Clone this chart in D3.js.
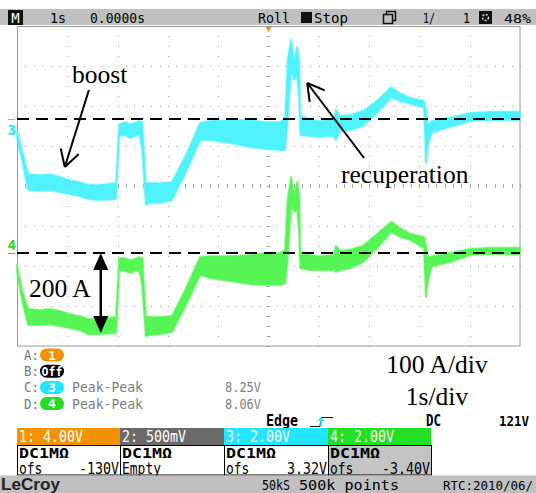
<!DOCTYPE html>
<html>
<head>
<meta charset="utf-8">
<script src="https://cdn.jsdelivr.net/npm/d3@7"></script>
<style>
  body { margin: 0; background: #fff; }
  svg { display: block; }
  .mono { font-family: "DejaVu Sans Mono", "Liberation Mono", monospace; }
  .serif { font-family: "Liberation Serif", "Times New Roman", serif; }
  .sans { font-family: "Liberation Sans", Arial, sans-serif; }
</style>
</head>
<body>
<div id="chart"></div>
<script>
// Time base (s) of the envelope samples, shared by both current probes
const timeS = [0, 0.10, 0.22, 0.46, 0.66, 0.85, 1.05, 1.25, 1.41, 1.65,
  1.97, 2.03, 2.15, 2.25, 2.35, 2.43, 2.49, 2.56, 2.64, 2.84,
  3.08, 3.36, 3.64, 3.84, 4.23, 4.63, 4.95, 5.23, 5.33, 5.38,
  5.45, 5.51, 5.57, 5.61, 5.63, 5.83, 6.02, 6.30, 6.34, 6.42,
  6.62, 6.88, 7.18, 7.44, 7.61, 7.81, 8.09, 8.13, 8.17, 8.25,
  8.61, 9.01, 9.40, 10.0];

// Channel 3 current envelope (A): upper and lower edge of the noisy band
const ch3Max = [-28, -78, -138, -140, -138, -145, -153, -158, -165, -165,
  -160, -13, -8, -13, -10, -5, -8, -160, -160, -160,
  -158, -90, -10, -5, -3, -3, -8, -8, 3, 148,
  198, 143, 180, 148, 10, -3, -5, 0, 23, 8,
  10, 20, 48, 80, 65, 53, 45, 23, -15, -5,
  3, 15, 18, 18];
const ch3Min = [-48, -103, -178, -180, -178, -183, -188, -193, -200, -203,
  -200, -43, -40, -48, -43, -38, -78, -215, -210, -210,
  -203, -133, -53, -53, -60, -70, -75, -78, -78, -3,
  123, 98, 110, 48, -40, -43, -45, -43, -53, -30,
  -28, -18, 18, 53, 45, 38, 28, -110, -65, -33,
  -20, -5, -3, -3];

// Channel 4 current envelope (A)
const ch4Max = [-30, -93, -140, -143, -140, -145, -153, -158, -165, -165,
  -160, -13, -13, -18, -15, -10, -13, -158, -160, -160,
  -158, -88, -10, -8, -8, -5, 0, 0, 8, 133,
  190, 145, 178, 145, 3, -5, -8, -5, 18, 5,
  8, 18, 50, 78, 63, 48, 40, 20, -13, -8,
  0, 10, 13, 13];
const ch4Min = [-48, -118, -180, -180, -178, -183, -188, -193, -203, -203,
  -200, -43, -45, -50, -45, -43, -80, -208, -205, -203,
  -198, -130, -55, -63, -70, -78, -80, -80, -75, -18,
  120, 103, 108, 45, -38, -43, -43, -43, -48, -43,
  -38, -23, 15, 53, 40, 33, 13, -110, -68, -33,
  -23, -5, -3, -3];

// Screen settings
const ampsPerDiv = 100;
const groundOffsetDiv = [1.675, -1.675];  // ch3, ch4 zero levels (div)
const measureRows = [
  { key: "A:", badge: "1", color: "#f39200", label: "", value: "" },
  { key: "B:", badge: "Off", color: "#000", label: "", value: "" },
  { key: "C:", badge: "3", color: "#22e6ff", label: "Peak-Peak", value: "8.25V" },
  { key: "D:", badge: "4", color: "#22dd22", label: "Peak-Peak", value: "8.06V" }
];
const channelBoxes = [
  { head: "1: 4.00V", color: "#f39200", line1: "DC1M\u03A9", left: "ofs", right: "-130V", body: "#fff" },
  { head: "2: 500mV", color: "#6b6b6b", line1: "DC1M\u03A9", left: "Empty", right: "", body: "#fff" },
  { head: "3: 2.00V", color: "#22e6ff", line1: "DC1M\u03A9", left: "ofs", right: "3.32V", body: "#fff" },
  { head: "4: 2.00V", color: "#22e022", line1: "DC1M\u03A9", left: "ofs", right: "-3.40V", body: "#c4c4c4" }
];

const W = 536, H = 493;
const svg = d3.select("#chart").append("svg").attr("width", W).attr("height", H);

const x = d3.scaleLinear().domain([0, 10]).range([17, 520]);
const y = d3.scaleLinear().domain([-4, 4]).range([346, 26]);

function txt(g, px, py, s, o = {}) {
  const t = g.append("text").attr("x", px).attr("y", py).text(s)
    .attr("class", o.cls || "mono")
    .attr("font-size", o.size || 14)
    .attr("fill", o.fill || "#000");
  if (o.weight) t.attr("font-weight", o.weight);
  if (o.anchor) t.attr("text-anchor", o.anchor);
  if (o.len) t.attr("textLength", o.len).attr("lengthAdjust", "spacingAndGlyphs");
  return t;
}

// ---- top status bar
const topBar = svg.append("g");
topBar.append("rect").attr("x", 0).attr("y", 9).attr("width", W).attr("height", 16).attr("fill", "#c0c0c0");
topBar.append("rect").attr("x", 8).attr("y", 10).attr("width", 15).attr("height", 15).attr("fill", "#111");
txt(topBar, 15.5, 22.5, "M", { fill: "#fff", anchor: "middle", size: 14 });
txt(topBar, 50, 22.5, "1s", { len: 16 });
txt(topBar, 90, 22.5, "0.0000s", { len: 55 });
txt(topBar, 258, 22.5, "Roll", { len: 32 });
topBar.append("rect").attr("x", 301.5).attr("y", 12.5).attr("width", 10).attr("height", 10).attr("fill", "#111").attr("stroke", "#111");
txt(topBar, 314, 22.5, "Stop", { len: 34 });
topBar.append("rect").attr("x", 386.5).attr("y", 11.5).attr("width", 9).attr("height", 9).attr("fill", "none").attr("stroke", "#111").attr("stroke-width", 1.5);
topBar.append("rect").attr("x", 383.5).attr("y", 14.5).attr("width", 9).attr("height", 9).attr("fill", "#c0c0c0").attr("stroke", "#111").attr("stroke-width", 1.5);
txt(topBar, 423, 22.5, "1/", { len: 12 });
txt(topBar, 463, 22.5, "1", { len: 7 });
topBar.append("rect").attr("x", 479).attr("y", 11).attr("width", 13).attr("height", 13).attr("fill", "#111");
topBar.append("circle").attr("cx", 485.5).attr("cy", 17.5).attr("r", 3).attr("fill", "none").attr("stroke", "#ddd").attr("stroke-width", 1.5).attr("stroke-dasharray", "2,1.5");
txt(topBar, 504, 22.5, "48%", { size: 13, len: 27 });

// ---- graticule
const grid = svg.append("g");
const dotColor = "#a8a8a8";
for (let i = 1; i < 10; i++) {
  for (let d = -4; d <= 4; d += 0.25) {
    grid.append("rect").attr("x", Math.round(x(i))).attr("y", Math.round(y(d))).attr("width", 1).attr("height", 1).attr("fill", dotColor);
  }
}
for (let j = -3; j <= 3; j++) {
  for (let k = 0; k <= 60; k++) {
    grid.append("rect").attr("x", Math.round(x(k / 6))).attr("y", Math.round(y(j))).attr("width", 1).attr("height", 1).attr("fill", dotColor);
  }
}
// centre cross ticks
for (let d = -4; d <= 4; d += 0.25) {
  grid.append("line").attr("x1", x(5) - 2).attr("x2", x(5) + 2).attr("y1", Math.round(y(d)) + 0.5).attr("y2", Math.round(y(d)) + 0.5).attr("stroke", dotColor);
}
for (let k = 0; k <= 60; k++) {
  grid.append("line").attr("x1", Math.round(x(k / 6)) + 0.5).attr("x2", Math.round(x(k / 6)) + 0.5).attr("y1", y(0) - 2).attr("y2", y(0) + 2).attr("stroke", dotColor);
}
grid.append("rect").attr("x", 17.5).attr("y", 26.5).attr("width", 502.5).attr("height", 319.5)
  .attr("fill", "none").attr("stroke", "#9a9a9a");

// trigger position marker
svg.append("path").attr("d", `M${x(5) - 3},27 L${x(5) + 3},27 L${x(5)},32 Z`).attr("fill", "#f39200");

// ---- traces (noise band drawn as a min/max envelope with a soft rim)
const traces = [
  { hi: ch3Max, lo: ch3Min, off: groundOffsetDiv[0], color: "#4ff2fb", label: "3" },
  { hi: ch4Max, lo: ch4Min, off: groundOffsetDiv[1], color: "#55f555", label: "4" }
];
const traceG = svg.append("g");
traces.forEach(tr => {
  const pts = timeS.map((t, i) => ({ t, hi: tr.hi[i], lo: tr.lo[i] }));
  const yA = a => y(tr.off + a / ampsPerDiv);
  const area = d3.area().x(d => x(d.t)).y0(d => yA(d.lo)).y1(d => yA(d.hi));
  traceG.append("path").datum(pts).attr("d", area)
    .attr("fill", "none").attr("stroke", tr.color).attr("stroke-opacity", 0.45)
    .attr("stroke-width", 2.6).attr("stroke-linejoin", "round");
  traceG.append("path").datum(pts).attr("d", area)
    .attr("fill", tr.color).attr("stroke", tr.color).attr("stroke-width", 0.8).attr("stroke-linejoin", "round");
});

// zero-current reference lines
traces.forEach(tr => {
  svg.append("line").attr("x1", x(0)).attr("x2", x(10))
    .attr("y1", y(tr.off)).attr("y2", y(tr.off))
    .attr("stroke", "#000").attr("stroke-width", 2).attr("stroke-dasharray", "12,7");
});

// channel ground markers
svg.append("line").attr("x1", 8).attr("x2", 15).attr("y1", y(groundOffsetDiv[0]) + 0.5).attr("y2", y(groundOffsetDiv[0]) + 0.5).attr("stroke", "#22e6ff");
txt(svg, 7.5, y(groundOffsetDiv[0]) + 16, "3", { fill: "#22e6ff", weight: "bold", size: 14 });
svg.append("line").attr("x1", 8).attr("x2", 15).attr("y1", y(groundOffsetDiv[1]) + 0.5).attr("y2", y(groundOffsetDiv[1]) + 0.5).attr("stroke", "#22dd22");
txt(svg, 7.5, y(groundOffsetDiv[1]) - 3, "4", { fill: "#22dd22", weight: "bold", size: 14 });

// ---- annotations
const ann = svg.append("g");
function arrow(t0, d0, t1, d1) {
  const x0 = x(t0), y0 = y(d0), x1 = x(t1), y1 = y(d1);
  ann.append("line").attr("x1", x0).attr("y1", y0).attr("x2", x1).attr("y2", y1)
    .attr("stroke", "#000").attr("stroke-width", 2);
  const ang = Math.atan2(y0 - y1, x0 - x1);
  [-0.52, 0.52].forEach(da => {
    ann.append("line").attr("x1", x1).attr("y1", y1)
      .attr("x2", x1 + 19 * Math.cos(ang + da)).attr("y2", y1 + 19 * Math.sin(ang + da))
      .attr("stroke", "#000").attr("stroke-width", 2);
  });
}
arrow(1.43, 2.4, 0.95, 0.475);
arrow(6.90, 0.70, 5.77, 2.575);
txt(ann, 72, 83, "boost", { cls: "serif", size: 25.5 });
txt(ann, 341, 183, "recuperation", { cls: "serif", size: 25.5 });

// 200 A span on channel 4
const spanT = 1.665, spanA = 200;
const sx = x(spanT), sy0 = y(groundOffsetDiv[1]), sy1 = y(groundOffsetDiv[1] - spanA / ampsPerDiv);
ann.append("line").attr("x1", sx).attr("x2", sx).attr("y1", sy0 + 12).attr("y2", sy1 - 12).attr("stroke", "#000").attr("stroke-width", 2.5);
ann.append("path").attr("d", `M${sx},${sy0} L${sx - 7.5},${sy0 + 17} L${sx + 7.5},${sy0 + 17} Z`).attr("fill", "#000");
ann.append("path").attr("d", `M${sx},${sy1} L${sx - 7.5},${sy1 - 17} L${sx + 7.5},${sy1 - 17} Z`).attr("fill", "#000");
txt(ann, 29, 297, "200 A", { cls: "serif", size: 25.5 });

txt(ann, 437, 373, "100 A/div", { cls: "serif", size: 25.5, anchor: "middle" });
txt(ann, 437, 405, "1s/div", { cls: "serif", size: 25.5, anchor: "middle" });

// ---- measurement table
const meas = svg.append("g");
measureRows.forEach((r, i) => {
  const cy = 355 + i * 16.2;
  txt(meas, 24, cy + 5, r.key, { fill: "#777", len: 15 });
  meas.append("rect").attr("x", 40).attr("y", cy - 6.5).attr("width", 24).attr("height", 13).attr("rx", 6.5).attr("fill", r.color);
  txt(meas, 52, cy + 4.5, r.badge, { fill: "#fff", anchor: "middle", weight: "bold", size: r.badge.length > 1 ? 12 : 13, len: r.badge.length > 1 ? 21 : null });
  if (r.label) txt(meas, 72, cy + 5, r.label, { fill: "#808080", len: 71 });
  if (r.value) txt(meas, 225, cy + 5, r.value, { fill: "#808080", len: 36 });
});

// trigger line
txt(svg, 266, 426, "Edge", { weight: "bold", size: 15, len: 32 });
svg.append("path").attr("d", "M310,426.5 H320 L321,417.5 H333").attr("fill", "none").attr("stroke", "#111").attr("stroke-width", 1);
svg.append("path").attr("d", "M321,416 L318,421 L324,421 Z").attr("fill", "#22e6ff");
svg.append("line").attr("x1", 321).attr("x2", 321).attr("y1", 420).attr("y2", 427).attr("stroke", "#22e6ff").attr("stroke-width", 1.5);
txt(svg, 426, 426, "DC", { weight: "bold", size: 15, len: 15 });
txt(svg, 499, 426, "121V", { weight: "bold", size: 13.5, len: 30 });

// ---- channel boxes
const boxes = svg.append("g");
const bx = [17, 120, 224, 328, 431];
channelBoxes.forEach((b, i) => {
  const x0 = bx[i], x1 = bx[i + 1], w = x1 - x0;
  boxes.append("rect").attr("x", x0).attr("y", 428).attr("width", w).attr("height", 17).attr("fill", b.color);
  boxes.append("rect").attr("x", x0 + 0.5).attr("y", 445.5).attr("width", w).attr("height", 29.5).attr("fill", b.body).attr("stroke", "#000");
  txt(boxes, x0 + 2, 442, b.head, { fill: "#fff", size: 15, len: 64 });
  txt(boxes, x0 + 2, 458, b.line1, { weight: "bold", size: 14, len: 50 });
  txt(boxes, x0 + 2, 473.5, b.left, { size: 15, len: b.left.length * 7.8 });
  if (b.right) txt(boxes, x1 - 1, 473.5, b.right, { anchor: "end", size: 15, len: b.right.length * 8 });
});

// ---- bottom status bar
const bot = svg.append("g");
bot.append("rect").attr("x", 0).attr("y", 475.5).attr("width", W).attr("height", 18).attr("fill", "#c0c0c0");
txt(bot, 1, 490, "LeCroy", { cls: "sans", weight: "bold", size: 16, fill: "#222", len: 59 });
txt(bot, 262, 490, "50kS", { len: 28 });
txt(bot, 299, 490, "500k points", { len: 100 });
txt(bot, 443, 490, "RTC:2010/06/", { size: 12.5, len: 90 });
</script>
</body>
</html>
